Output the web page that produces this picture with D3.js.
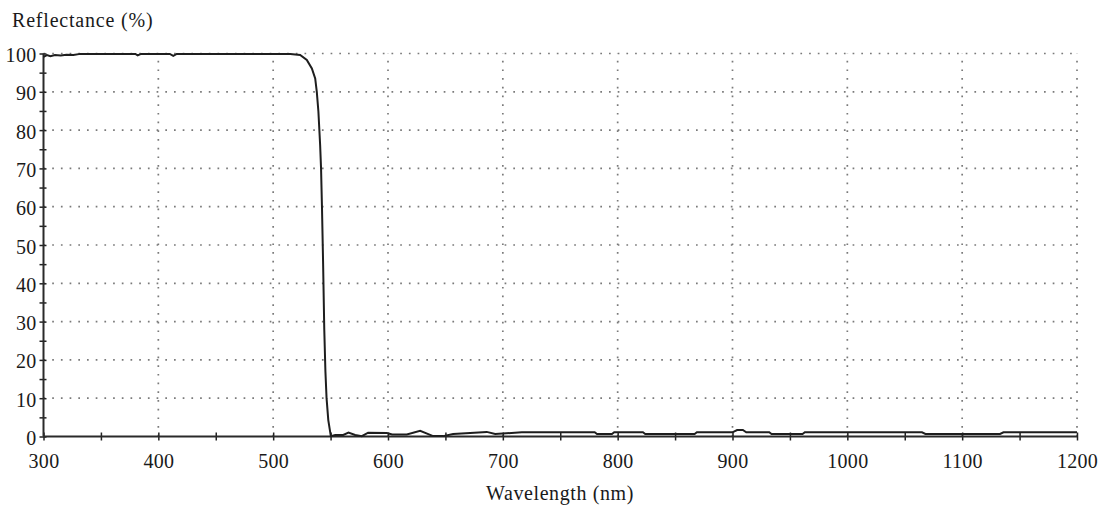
<!DOCTYPE html>
<html><head><meta charset="utf-8">
<script src="https://cdn.jsdelivr.net/npm/d3@7"></script>
<style>
html,body{margin:0;padding:0;background:#fff;}
svg{display:block;}
text{font-family:"Liberation Serif","Times New Roman",serif;fill:#1a1a1a;}
</style></head>
<body>
<svg id="c" width="1104" height="512"></svg>
<script>
const wavelength = [300,303,306,310,315,320,326,332,340,380,382,385,410,413,416,460,505,515,523.5,529.3,533.7,536.6,538,539.4,540.9,541.7,542.5,543.5,544.5,545.5,546.5,548,550.2,554,561,565.6,571.4,577.2,582.7,599,603.6,616.4,628,639.3,648,656.7,671.5,686,693.3,716.5,780,782,795,797,822,824,867,869,900,904,909,912,932,934,961,963,1065,1068,1133,1136,1200];
const reflectance = [99.1,99.6,99.3,99.6,99.5,99.7,99.6,99.9,99.9,99.9,99.5,99.9,99.9,99.4,99.9,99.9,99.9,99.9,99.6,98.3,96.1,93.5,90.0,84.8,76.1,70,60,45,28,17,10,4.3,0.1,0.4,0.4,1.0,0.4,0.1,1.0,0.9,0.5,0.5,1.5,0.1,0.1,0.65,0.9,1.2,0.65,1.1,1.1,0.65,0.65,1.1,1.1,0.65,0.65,1.1,1.1,1.7,1.7,1.1,1.1,0.65,0.65,1.1,1.1,0.65,0.65,1.1,1.1];
const xTicks = [300,400,500,600,700,800,900,1000,1100,1200];
const yTicks = [0,10,20,30,40,50,60,70,80,90,100];
const xMinor = d3.range(350,1200,100);
const yMinor = d3.range(5,100,10);
const yTitle = "Reflectance (%)";
const xTitle = "Wavelength (nm)";

const svg = d3.select("#c");
const x = d3.scaleLinear().domain([300,1200]).range([43.5,1077]);
const y = d3.scaleLinear().domain([0,100]).range([436.5,53.5]);

// grid
const grid = svg.append("g").attr("stroke","#7a7a7a").attr("stroke-width",1.7).attr("stroke-dasharray","1.7,7");
grid.selectAll(".gx").data(xTicks.filter(d=>d>300)).join("line")
  .attr("x1",d=>x(d)).attr("x2",d=>x(d)).attr("y1",y(0)).attr("y2",y(100));
grid.selectAll(".gy").data(yTicks.filter(d=>d>0)).join("line")
  .attr("x1",x(300)).attr("x2",x(1200)).attr("y1",d=>y(d)).attr("y2",d=>y(d));

// axes
const ax = svg.append("g").attr("transform",`translate(0,${y(0)})`)
  .call(d3.axisBottom(x).tickValues(xTicks).tickSize(4).tickPadding(13).tickFormat(d3.format("d")));
const axm = svg.append("g").attr("transform",`translate(0,${y(0)})`)
  .call(d3.axisBottom(x).tickValues(xMinor).tickSize(4).tickFormat(""));
const ay = svg.append("g").attr("transform",`translate(${x(300)},0)`)
  .call(d3.axisLeft(y).tickValues(yTicks).tickSize(4).tickPadding(3).tickFormat(d3.format("d")));
const aym = svg.append("g").attr("transform",`translate(${x(300)},0)`)
  .call(d3.axisLeft(y).tickValues(yMinor).tickSize(4).tickFormat(""));
[ax,axm,ay,aym].forEach(g=>{
  g.select(".domain").remove();
  g.selectAll(".tick line").attr("stroke","#222").attr("stroke-width",1.5);
  g.selectAll("text").attr("font-size",20).attr("fill","#1a1a1a").attr("font-family","Liberation Serif").attr("letter-spacing",0.3);
});
[ax,axm].forEach(g=>g.selectAll(".tick line").attr("y1",-4));
[ay,aym].forEach(g=>g.selectAll(".tick line").attr("x1",3));
ax.selectAll("text").attr("dy","0.71em");
ay.selectAll("text").attr("dy","0.4em");

svg.append("line").attr("x1",x(300)).attr("x2",x(1200)).attr("y1",y(0)).attr("y2",y(0)).attr("stroke","#2a2a2a").attr("stroke-width",2);
svg.append("line").attr("x1",x(300)).attr("x2",x(300)).attr("y1",y(0)).attr("y2",y(100)).attr("stroke","#2a2a2a").attr("stroke-width",2);

// curve
const pts = wavelength.map((w,i)=>[w,reflectance[i]]);
svg.append("path").datum(pts)
  .attr("fill","none").attr("stroke","#1e1e1e").attr("stroke-width",2)
  .attr("d",d3.line().x(d=>x(d[0])).y(d=>y(d[1])));

// titles
svg.append("text").attr("x",12).attr("y",27).attr("font-size",20).attr("letter-spacing",0.8).text(yTitle);
svg.append("text").attr("x",560).attr("y",500).attr("text-anchor","middle").attr("font-size",20).attr("letter-spacing",0.6).text(xTitle);
</script>
</body></html>
